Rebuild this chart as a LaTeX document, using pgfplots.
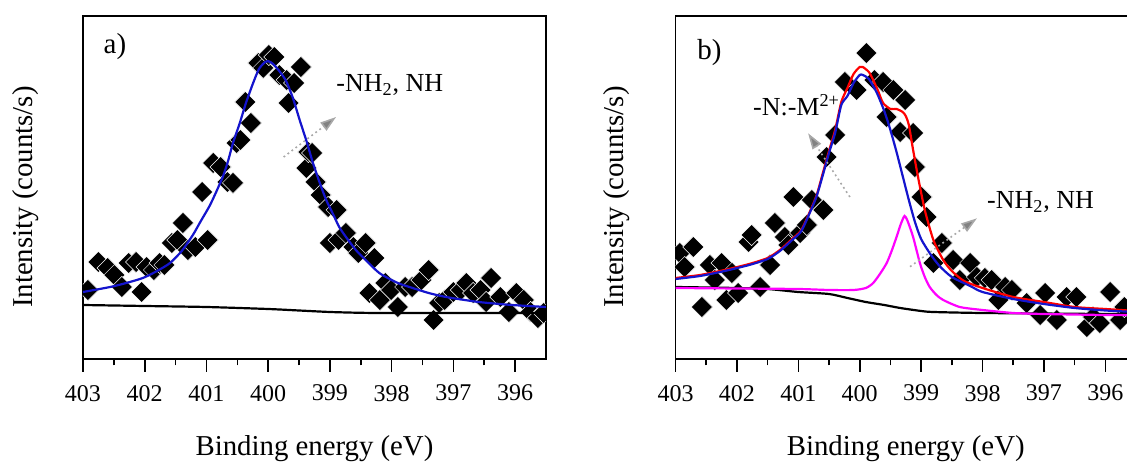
\documentclass[border=0pt]{standalone}
\usepackage{fontspec}
\setmainfont{Liberation Serif}
\usepackage{pgfplots}
\pgfplotsset{compat=1.18}
\usetikzlibrary{arrows.meta}

\definecolor{fitblue}{RGB}{20,20,205}
\definecolor{fitred}{RGB}{255,0,0}
\definecolor{fitmag}{RGB}{255,0,255}
\definecolor{arrgray}{RGB}{130,130,130}

\pgfplotsset{
  xpsaxis/.style={
    scale only axis, anchor=south west,
    width=231.5pt, height=171.5pt,
    xmin=395.5, xmax=403, ymin=0, ymax=343, x dir=reverse,
    xtick={396,397,398,399,400,401,402,403}, minor x tick num=1, ytick=\empty,
    xtick pos=left, tick align=outside,
    major tick length=6.5pt, minor tick length=3.2pt,
    axis line style={line width=0.9pt},
    tick style={black, line width=0.8pt},
    /pgf/number format/assume math mode=true,
    xticklabel style={font=\fontsize{12}{14}\selectfont, yshift=-3pt},
    label style={font=\fontsize{14.4}{17}\selectfont},
    xlabel={Binding energy (eV)},
    ylabel={Intensity (counts/s)},
    xlabel style={at={(axis description cs:0.5,0)}, anchor=center, yshift=-45pt},
    clip mode=individual, clip marker paths=true,
  },
  pts/.style={only marks, mark=square*, mark size=3.75pt,
    mark options={rotate=45, fill=black, draw=white, line width=0.25pt}},
  fit/.style={smooth, tension=0.4, line width=1.1pt, no marks},
}
\tikzset{
  lbl/.style={anchor=base west, font=\fontsize{13}{15}\selectfont},
  pointer/.style={arrgray!70, line width=0.8pt, dash pattern=on 0.9pt off 1.6pt,
    -{Triangle[length=8pt, width=5pt, fill=arrgray]}},
}

\begin{document}
\begin{tikzpicture}

% a) one component
\begin{axis}[xpsaxis, at={(41.5pt,52.5pt)},
  ylabel style={at={(axis description cs:-0.123,0.472)}, anchor=center}]
\addplot[pts] coordinates {
(402.92,69) (402.75,97) (402.60,91) (402.49,84) (402.37,72) (402.26,96)
(402.14,97) (402.05,67) (401.97,92) (401.85,89) (401.76,96) (401.68,94)
(401.56,116) (401.47,119) (401.38,136) (401.30,109) (401.18,112) (401.07,167)
(400.98,119) (400.89,196) (400.77,192) (400.66,177) (400.57,176) (400.51,216)
(400.45,219) (400.37,257) (400.28,236) (400.16,296) (400.08,291) (399.99,304)
(399.90,302) (399.82,284) (399.70,279) (399.67,256) (399.58,276) (399.47,292)
(399.38,191) (399.35,207) (399.29,206) (399.23,177) (399.15,164) (399.03,152)
(399.00,116) (398.89,149) (398.86,119) (398.74,126) (398.62,112) (398.54,106)
(398.42,116) (398.36,66) (398.28,101) (398.19,59) (398.10,76) (398.01,69)
(397.90,52) (397.78,72) (397.67,72) (397.52,79) (397.40,89) (397.32,39)
(397.23,56) (397.14,59) (397.00,67) (396.88,69) (396.79,76) (396.68,66)
(396.56,69) (396.47,57) (396.39,81) (396.24,62) (396.10,47) (395.98,66)
(395.86,59) (395.75,47) (395.63,41) (395.54,46)
};
\addplot[fit, black] coordinates {
(403.0,54) (402.0,53) (401.0,52) (400.0,50) (399.5,48.5) (399.0,47)
(398.5,46.2) (398.0,46) (395.5,46)
};
\addplot[fit, fitblue] coordinates {
(403.00,67) (402.56,72) (402.30,76) (402.03,81) (401.80,88) (401.59,96)
(401.40,108) (401.22,124) (401.10,137) (400.95,153) (400.85,166) (400.73,183)
(400.65,198) (400.57,216) (400.46,236) (400.36,256) (400.25,275) (400.15,290)
(400.05,297) (400.00,298) (399.92,295) (399.82,288) (399.71,278) (399.60,261)
(399.49,239) (399.38,218) (399.28,197) (399.17,177) (399.06,159) (398.95,145)
(398.85,132) (398.74,122) (398.58,109) (398.47,102) (398.20,86) (397.90,76)
(397.66,71) (397.40,66) (397.12,62) (396.59,57) (396.05,54) (395.50,52)
};
\node[lbl, font=\fontsize{14.5}{16}\selectfont] at (axis cs:402.78,305.7) {a)};
\node[lbl] at (axis cs:399.01,267) {-NH\textsubscript{2}, NH};
\draw[pointer] (axis cs:399.75,202) -- (axis cs:398.90,242);
\end{axis}

% b) two components
\begin{axis}[xpsaxis, at={(337.75pt,52.5pt)}, width=230.25pt,
  ylabel style={at={(axis description cs:-0.128,0.472)}, anchor=center}]
\addplot[pts] coordinates {
(402.93,106) (402.85,92) (402.71,112) (402.57,52) (402.44,94) (402.36,79)
(402.25,96) (402.17,59) (402.08,86) (401.98,66) (401.81,117) (401.76,124)
(401.62,72) (401.46,94) (401.38,136) (401.22,122) (401.16,114) (401.08,162)
(400.97,126) (400.86,134) (400.78,159) (400.59,149) (400.54,202) (400.40,224)
(400.24,277) (400.05,269) (399.89,306) (399.76,279) (399.62,277) (399.56,242)
(399.45,269) (399.34,227) (399.26,259) (399.13,226) (399.10,192) (398.99,162)
(398.91,142) (398.80,96) (398.66,116) (398.48,99) (398.37,79) (398.20,96)
(398.09,82) (397.96,81) (397.85,79) (397.74,59) (397.63,72) (397.52,69)
(397.28,56) (397.06,44) (396.98,66) (396.79,39) (396.63,62) (396.47,62)
(396.30,32) (396.20,42) (396.09,36) (395.92,67) (395.76,39) (395.69,52)
};
\addplot[fit, black] coordinates {
(403.0,72) (402.0,71) (401.5,70) (401.0,67) (400.5,65) (400.2,61) (399.9,57)
(399.6,54) (399.34,51) (399.0,48) (398.8,47) (398.0,46) (396.0,45) (395.5,45)
};
\addplot[fit, fitmag] coordinates {
(403.00,71) (402.00,70.5) (401.00,70) (400.50,69) (400.10,69) (399.90,71)
(399.78,76) (399.66,86) (399.56,96) (399.48,108) (399.40,122) (399.33,135)
(399.27,143) (399.22,138) (399.13,122) (399.02,96) (398.94,82) (398.86,72)
(398.75,64) (398.64,59) (398.37,52) (398.00,49) (397.50,46) (397.00,45)
(396.00,44) (395.50,44)
};
\addplot[fit, fitred] coordinates {
(403.00,81) (402.60,84) (402.20,89) (401.80,95) (401.50,101) (401.30,109)
(401.10,120) (400.95,129) (400.80,149) (400.70,164) (400.60,186) (400.50,208)
(400.40,229) (400.30,257) (400.20,271) (400.10,285) (400.00,292) (399.95,292)
(399.85,287) (399.78,279) (399.70,268) (399.62,256) (399.50,250) (399.40,250)
(399.30,247) (399.25,243) (399.20,234) (399.13,209) (399.05,182) (398.94,149)
(398.80,119) (398.64,99) (398.50,88) (398.30,78) (398.00,71) (397.50,62)
(397.00,57) (396.50,52) (396.00,50) (395.50,48)
};
\addplot[fit, fitblue] coordinates {
(403.00,80) (402.60,83) (402.20,88) (401.80,94) (401.50,100) (401.30,108)
(401.10,119) (400.95,128) (400.80,148) (400.70,163) (400.60,184) (400.50,206)
(400.40,226) (400.30,254) (400.20,263) (400.10,276) (400.00,284) (399.95,284)
(399.85,280) (399.72,266) (399.60,248) (399.50,229) (399.40,207) (399.30,183)
(399.20,159) (399.10,137) (399.00,120) (398.85,105) (398.70,93) (398.50,82)
(398.20,73) (398.00,67) (397.50,60) (397.00,55) (396.50,51) (396.00,48.5)
(395.50,47)
};
\node[lbl, font=\fontsize{14.5}{16}\selectfont] at (axis cs:402.76,299.7) {b)};
\node[lbl] at (axis cs:401.85,243.3) {-N:-M\textsuperscript{2+}};
\draw[pointer] (axis cs:400.16,162) -- (axis cs:400.84,225.7);
\node[lbl] at (axis cs:398.04,150.7) {-NH\textsubscript{2}, NH};
\draw[pointer] (axis cs:399.18,92.3) -- (axis cs:398.09,140.7);
\end{axis}

\pgfresetboundingbox
\useasboundingbox (0,0) rectangle (563.5pt,232pt);
\end{tikzpicture}
\end{document}
